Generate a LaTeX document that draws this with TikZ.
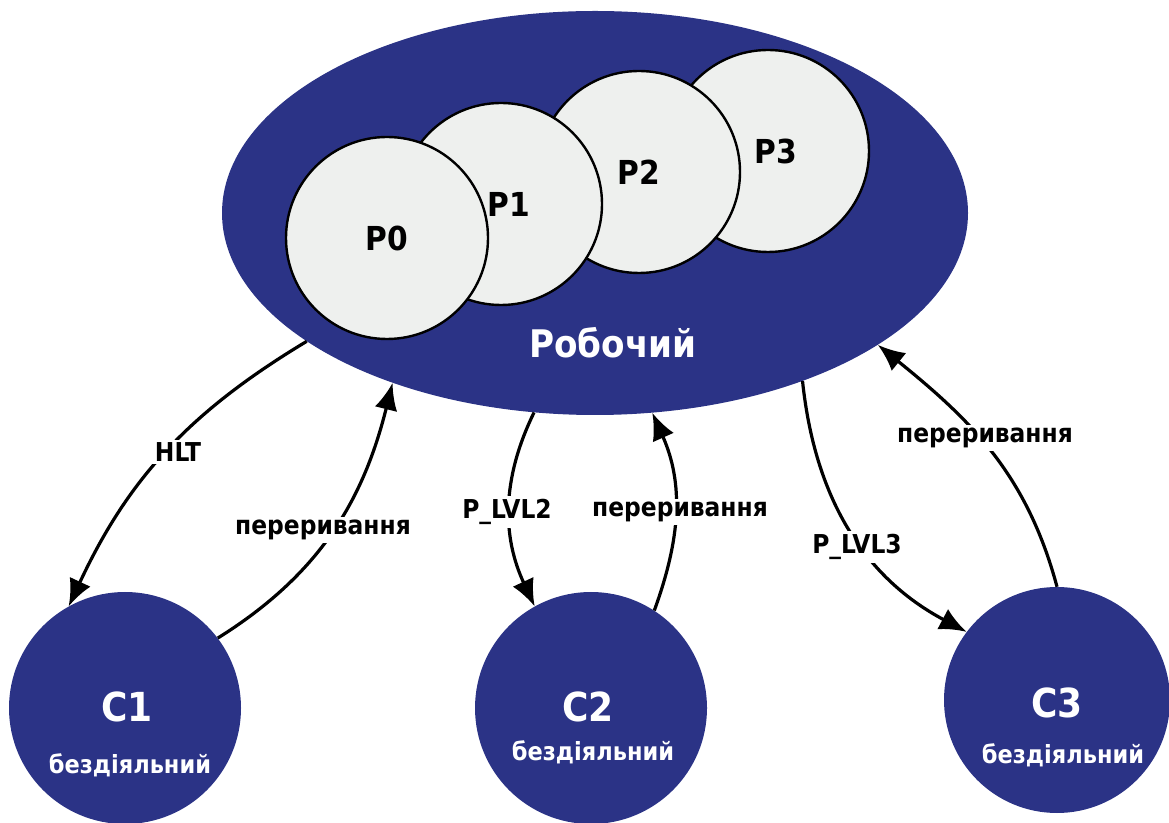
\documentclass[tikz,border=0pt]{standalone}
\usepackage{fontspec}
\setmainfont{DejaVu Sans Condensed}[BoldFont={DejaVu Sans Condensed Bold}]
\usetikzlibrary{arrows.meta,shapes.geometric}
\definecolor{navy}{RGB}{43,51,134}
\definecolor{pgray}{RGB}{238,240,238}
\begin{document}
\begin{tikzpicture}[x=1pt,y=1pt,
  pcirc/.style={circle,draw=black,line width=2.4pt,fill=pgray,minimum size=202pt,inner sep=0pt,
    font=\fontsize{33}{37}\selectfont\bfseries},
  ccirc/.style={circle,fill=navy,inner sep=0pt},
  ctext/.style={text=white,font=\fontsize{40}{44}\selectfont\bfseries},
  stext/.style={text=white,font=\fontsize{25}{29}\selectfont\bfseries},
  lbl/.style={fill=white,inner sep=3pt,text=black,font=\fontsize{26}{30}\selectfont\bfseries},
  arr/.style={line width=3.2pt,-{Latex[length=27pt,width=23pt]}}]
\useasboundingbox (0,0) rectangle (1169,822);
% working state
\node[ellipse,fill=navy,minimum width=746pt,minimum height=404pt,inner sep=0pt] (E) at (595,609) {};
\node[pcirc] (P3) at (768,671) {\raisebox{-3pt}{\hspace{16pt}P3}};
\node[pcirc] (P2) at (639,650) {P2};
\node[pcirc] (P1) at (501,618) {\hspace{16pt}P1};
\node[pcirc] (P0) at (387,584) {\raisebox{-6pt}{P0}};
\node[text=white,font=\fontsize{38}{42}\selectfont\bfseries] (Wt) at (613,479) {Робочий};
% idle states
\node[ccirc,minimum size=232pt] (C1) at (125,114) {};
\node[ccirc,minimum size=232pt] (C2) at (591,114) {};
\node[ccirc,minimum size=226pt] (C3) at (1057,122) {};
\node[ctext] (C1t) at (127,115) {C1};
\node[stext] (C1s) at (130,57) {бездіяльний};
\node[ctext] (C2t) at (588,115) {C2};
\node[stext] (C2s) at (593,70) {бездіяльний};
\node[ctext] (C3t) at (1057,119) {C3};
\node[stext] (C3s) at (1063,67) {бездіяльний};
% transitions
\draw[arr] (E.204) to[out=211,in=65] (C1.119);
\draw[arr] (C1.37) to[out=32,in=256] (E.220);
\draw[arr] (E.253) to[out=244,in=115] (C2.119);
\draw[arr] (C2.57) to[out=70,in=294] (E.286);
\draw[arr] (E.321) to[out=276,in=152] (C3.143);
\draw[arr] (C3.90) to[out=105,in=321] (E.335);
% labels
\node[lbl] (L1) at (178,370) {HLT};
\node[lbl] (L2) at (323,292) {переривання};
\node[lbl] (L3) at (507,310) {P\_LVL2};
\node[lbl] (L4) at (680,310) {переривання};
\node[lbl] (L5) at (857,275) {P\_LVL3};
\node[lbl] (L6) at (985,384) {переривання};
\end{tikzpicture}
\end{document}
